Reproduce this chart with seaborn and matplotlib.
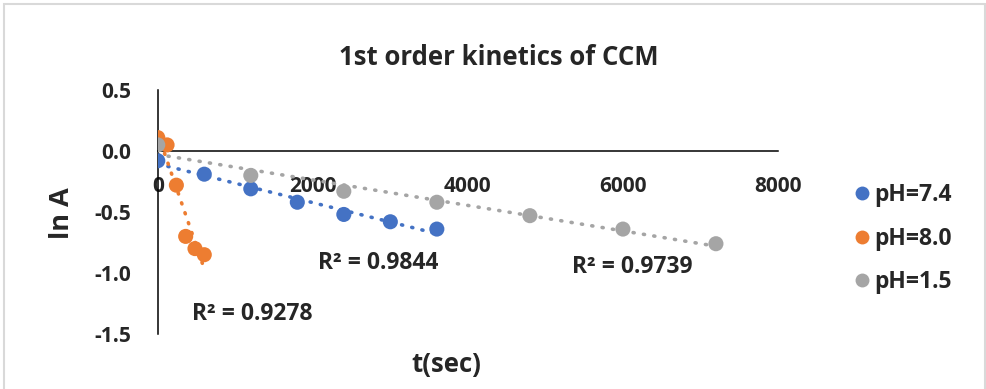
import numpy as np
import pandas as pd
import matplotlib
matplotlib.use("Agg")
import matplotlib.pyplot as plt
from matplotlib.patches import Rectangle
from matplotlib.lines import Line2D
import seaborn as sns

# Kinetic data: time (s) and ln A for each pH
t_ph74 = [0, 600, 1200, 1800, 2400, 3000, 3600]
lnA_ph74 = [-0.08, -0.19, -0.31, -0.42, -0.52, -0.58, -0.64]

t_ph80 = [0, 120, 240, 360, 480, 600]
lnA_ph80 = [0.11, 0.05, -0.28, -0.70, -0.80, -0.85]

t_ph15 = [0, 1200, 2400, 3600, 4800, 6000, 7200]
lnA_ph15 = [0.05, -0.20, -0.33, -0.42, -0.53, -0.64, -0.76]

series_names = ["pH=7.4", "pH=8.0", "pH=1.5"]
series_colors = ["#4472C4", "#ED7D31", "#A5A5A5"]
r2_labels = ["R\u00b2 = 0.9844", "R\u00b2 = 0.9278", "R\u00b2 = 0.9739"]
x_ticks = [0, 2000, 4000, 6000, 8000]
y_ticks = [0.5, 0.0, -0.5, -1.0, -1.5]

frames = []
for name, t, y in zip(series_names,
                      [t_ph74, t_ph80, t_ph15],
                      [lnA_ph74, lnA_ph80, lnA_ph15]):
    frames.append(pd.DataFrame({"t": t, "lnA": y, "series": name}))
df = pd.concat(frames, ignore_index=True)

sns.set_style("white")
plt.rcParams["font.family"] = ["Open Sans", "DejaVu Sans"]
plt.rcParams["font.weight"] = "bold"

fig = plt.figure(figsize=(9.86, 3.89), dpi=100)
ax = fig.add_axes([0.160, 0.1414, 0.629, 0.6272])

palette = dict(zip(series_names, series_colors))

# Dotted linear trendlines
for name in series_names:
    sub = df[df["series"] == name]
    sns.regplot(data=sub, x="t", y="lnA", ax=ax, scatter=False, ci=None,
                truncate=True,
                line_kws=dict(color=palette[name], lw=2.6,
                              linestyle=(0, (0.3, 2.6)),
                              dash_capstyle="round", solid_capstyle="round",
                              zorder=2))

# Data points
sns.scatterplot(data=df, x="t", y="lnA", hue="series", palette=palette,
                hue_order=series_names, s=118, edgecolor="none",
                ax=ax, legend=False, zorder=3)

ax.set_xlim(0, 8000)
ax.set_ylim(-1.5, 0.5)
ax.set_xticks(x_ticks)
ax.set_yticks(y_ticks)
ax.set_xticklabels([f"{v:d}" for v in x_ticks])
ax.set_yticklabels([f"{v:.1f}" for v in y_ticks])

for side in ["top", "right"]:
    ax.spines[side].set_visible(False)
ax.spines["bottom"].set_position(("data", 0))
for side in ["bottom", "left"]:
    ax.spines[side].set_color("black")
    ax.spines[side].set_linewidth(1.1)

ax.tick_params(axis="both", which="major", direction="out", length=6,
               width=1.1, color="black", labelsize=15)
ax.tick_params(axis="x", pad=12)
ax.tick_params(axis="y", pad=13)
for lab in ax.get_xticklabels() + ax.get_yticklabels():
    lab.set_fontweight("bold")

ax.set_xlabel("")
ax.set_ylabel("")
fig.text(0.0626, 0.452, "ln A", rotation=90, ha="center", va="center",
         fontsize=19.5, fontweight="bold")
fig.text(0.453, 0.062, "t(sec)", ha="center", va="center",
         fontsize=18.5, fontweight="bold")
fig.text(0.506, 0.851, "1st order kinetics of CCM", ha="center",
         va="center", fontsize=18.5, fontweight="bold")

# R-squared annotations
r2_pos = [(2843, -0.918), (1217, -1.336), (6126, -0.951)]
for label, (xp, yp) in zip(r2_labels, r2_pos):
    ax.text(xp, yp, label, ha="center", va="center", fontsize=16.5,
            fontweight="bold")

# Legend
handles = [Line2D([0], [0], marker="o", linestyle="none", markersize=10,
                  markerfacecolor=c, markeredgecolor="none")
           for c in series_colors]
leg = fig.legend(handles, series_names, loc="center left",
                 bbox_to_anchor=(0.843, 0.386), frameon=False,
                 prop=dict(size=16.5, weight="bold"), handletextpad=0.1,
                 labelspacing=0.85, handlelength=0.9)

# Chart area border
fig.patches.append(Rectangle((3.5 / 986, -0.05), 981.5 / 986, 1.05 - 4 / 389,
                             transform=fig.transFigure, fill=False,
                             edgecolor="#d9d9d9", linewidth=1.5))

fig.savefig("out.png", dpi=100)
